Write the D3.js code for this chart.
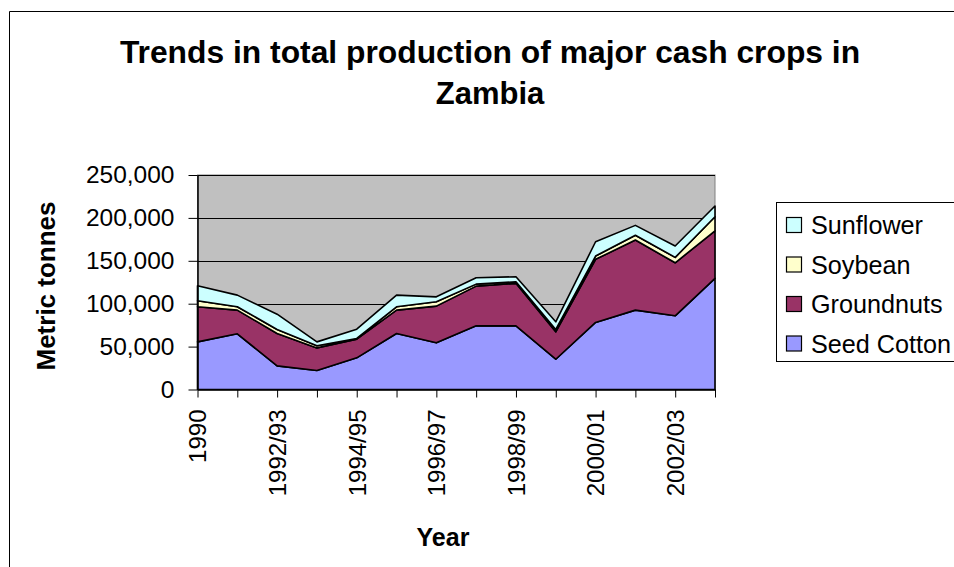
<!DOCTYPE html>
<html>
<head>
<meta charset="utf-8">
<script src="https://cdn.jsdelivr.net/npm/d3@7"></script>
<style>
  body { margin: 0; background: #fff; }
  svg text { font-family: "Liberation Sans", Arial, sans-serif; fill: #000; }
</style>
</head>
<body>
<div id="graph"></div>
<script>
// Chart data
var categories = ['1990', '1991/92', '1992/93', '1993/94', '1994/95', '1995/96', '1996/97',
                  '1997/98', '1998/99', '1999/00', '2000/01', '2001/02', '2002/03', '2003/04'];
var seedCotton = [55500, 64900, 27500, 22200, 36900, 65300, 54400, 74200, 74200, 35300, 78200, 92500, 85900, 129500];
var groundnuts = [40900, 27600, 37800, 26300, 21800, 27200, 42800, 46300, 49500, 31900, 73500, 81700, 61800, 55500];
var soybean    = [7000, 3900, 4700, 2400, 800, 3900, 5000, 2300, 1800, 2800, 3800, 5500, 6300, 16400];
var sunflower  = [17500, 13600, 17800, 4600, 10800, 13600, 5800, 7400, 5900, 8900, 16700, 11600, 13200, 12400];
var seriesNames = ['Seed Cotton', 'Groundnuts', 'Soybean', 'Sunflower'];
var seriesColors = ['#9999ff', '#993366', '#ffffcc', '#ccffff'];
var yTicks = [0, 50000, 100000, 150000, 200000, 250000];

// Build rows for the stack
var data = categories.map(function(c, i) {
    return {
        cat: c,
        'Seed Cotton': seedCotton[i],
        'Groundnuts': groundnuts[i],
        'Soybean': soybean[i],
        'Sunflower': sunflower[i]
    };
});

// Plot area
var plot = {left: 197.5, right: 715, top: 175, bottom: 389.5};

var svg = d3.select('#graph')
    .append('svg')
    .attr('width', 954)
    .attr('height', 567);

// Outer chart border (cut off at right and bottom)
svg.append('path')
    .attr('d', 'M9.5,600 V11.5 H960')
    .attr('fill', 'none')
    .attr('stroke', '#000')
    .attr('stroke-width', 1);

// Scales
var x = d3.scalePoint().domain(categories).range([plot.left, plot.right]).padding(0);
var y = d3.scaleLinear().domain([0, 250000]).range([plot.bottom, plot.top]);

// Plot background
svg.append('rect')
    .attr('x', plot.left)
    .attr('y', plot.top)
    .attr('width', plot.right - plot.left)
    .attr('height', plot.bottom - plot.top)
    .attr('fill', '#c0c0c0')
    .attr('stroke', '#808080')
    .attr('stroke-width', 1);

// Gridlines
svg.append('g')
    .selectAll('line')
    .data(yTicks.slice(1))
    .enter()
    .append('line')
        .attr('x1', plot.left)
        .attr('x2', plot.right)
        .attr('y1', function(d) { return Math.round(y(d)) + 0.5; })
        .attr('y2', function(d) { return Math.round(y(d)) + 0.5; })
        .attr('stroke', '#000')
        .attr('stroke-width', 1);

// Stacked areas
var stack = d3.stack().keys(seriesNames);
var layers = stack(data);

var area = d3.area()
    .x(function(d) { return x(d.data.cat); })
    .y0(function(d) { return y(d[0]); })
    .y1(function(d) { return y(d[1]); });

svg.append('g')
    .selectAll('path')
    .data(layers)
    .enter()
    .append('path')
        .attr('fill', function(d, i) { return seriesColors[i]; })
        .attr('stroke', '#000')
        .attr('stroke-width', 1.6)
        .attr('stroke-linejoin', 'round')
        .attr('d', area);

// Y axis
var yAxis = d3.axisLeft(y)
    .tickValues(yTicks)
    .tickSize(9)
    .tickPadding(14)
    .tickSizeOuter(0)
    .tickFormat(d3.format(','));

var yG = svg.append('g')
    .attr('transform', 'translate(' + plot.left + ',0)')
    .call(yAxis);
yG.select('.domain').attr('stroke', '#000').attr('stroke-width', 1.5);
yG.selectAll('.tick line').attr('stroke', '#000');
yG.selectAll('text')
    .attr('font-size', 24.5)
    .attr('font-family', '"Liberation Sans", Arial, sans-serif');

// X axis
var xAxis = d3.axisBottom(x)
    .tickSize(8)
    .tickSizeOuter(0)
    .tickFormat(function(d, i) { return i % 2 === 0 ? d : ''; });

var xG = svg.append('g')
    .attr('transform', 'translate(0,' + plot.bottom + ')')
    .call(xAxis);
xG.select('.domain').attr('stroke', '#000').attr('stroke-width', 1.5);
xG.selectAll('.tick line').attr('stroke', '#000');
xG.selectAll('text')
    .attr('font-size', 24)
    .attr('font-family', '"Liberation Sans", Arial, sans-serif')
    .attr('transform', 'rotate(-90)')
    .attr('text-anchor', 'end')
    .attr('x', -20)
    .attr('y', 0)
    .attr('dy', '0.35em');

// Title
svg.append('text')
    .attr('x', 490)
    .attr('y', 63)
    .attr('text-anchor', 'middle')
    .attr('font-size', 31.8)
    .attr('font-weight', 'bold')
    .text('Trends in total production of major cash crops in');
svg.append('text')
    .attr('x', 490)
    .attr('y', 104)
    .attr('text-anchor', 'middle')
    .attr('font-size', 31)
    .attr('font-weight', 'bold')
    .text('Zambia');

// Axis titles
svg.append('text')
    .attr('transform', 'translate(55,286) rotate(-90)')
    .attr('text-anchor', 'middle')
    .attr('font-size', 26)
    .attr('font-weight', 'bold')
    .text('Metric tonnes');
svg.append('text')
    .attr('x', 443)
    .attr('y', 546)
    .attr('text-anchor', 'middle')
    .attr('font-size', 25)
    .attr('font-weight', 'bold')
    .text('Year');

// Legend
var legend = svg.append('g');
legend.append('rect')
    .attr('x', 776.5)
    .attr('y', 202.5)
    .attr('width', 200)
    .attr('height', 159)
    .attr('fill', '#fff')
    .attr('stroke', '#000')
    .attr('stroke-width', 1);

var legendItems = legend.selectAll('.item')
    .data(seriesNames.slice().reverse())
    .enter()
    .append('g')
        .attr('class', 'item')
        .attr('transform', function(d, i) { return 'translate(0,' + (225 + i * 39.5) + ')'; });

legendItems.append('rect')
    .attr('x', 786.5)
    .attr('y', -7.5)
    .attr('width', 15)
    .attr('height', 15)
    .attr('fill', function(d) { return seriesColors[seriesNames.indexOf(d)]; })
    .attr('stroke', '#000')
    .attr('stroke-width', 1.2);

legendItems.append('text')
    .attr('x', 811)
    .attr('y', 0)
    .attr('dy', '0.36em')
    .attr('font-size', 25.2)
    .text(function(d) { return d; });
</script>
</body>
</html>
